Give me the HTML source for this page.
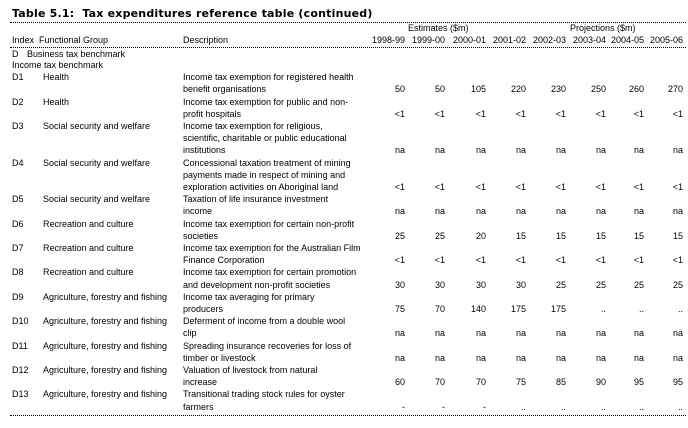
<!DOCTYPE html>
<html><head><meta charset="utf-8"><style>
html,body{margin:0;padding:0;background:#fff;}
body{width:688px;height:418px;position:relative;overflow:hidden;font-family:"Liberation Sans",Arial,sans-serif;font-size:9px;color:#000;}
.t{position:absolute;white-space:nowrap;line-height:12.2px;}
.row{position:absolute;left:0;width:688px;height:40px;}
.idx{position:absolute;left:12px;top:0;line-height:12.2px;white-space:nowrap;}
.grp{position:absolute;left:43px;top:0;line-height:12.2px;white-space:nowrap;}
.desc{position:absolute;left:183px;top:0;line-height:12.2px;white-space:nowrap;}
.vals{position:absolute;left:0;width:688px;height:13px;line-height:12.2px;}
.vals span{position:absolute;top:0;width:40px;text-align:right;white-space:nowrap;}
.c1{left:365px}.c2{left:405px}.c3{left:446px}.c4{left:486px}.c5{left:526px}.c6{left:566px}.c7{left:604px}.c8{left:643px}
.hr{position:absolute;left:10px;width:676px;height:0;border-top:1px dotted #000;}
.title{position:absolute;left:12px;top:7px;font-family:"DejaVu Sans",Verdana,sans-serif;font-weight:bold;font-size:11px;letter-spacing:0.2px;white-space:nowrap;line-height:14px;}
</style></head><body>

<div class="title">Table 5.1:&nbsp; Tax expenditures reference table (continued)</div>
<div class="hr" style="top:22px"></div>

<div class="t" style="left:408px;top:22.2px">Estimates ($m)</div>
<div class="t" style="left:570px;top:22.2px">Projections ($m)</div>

<div class="t" style="left:12px;top:34.2px">Index</div>
<div class="t" style="left:39px;top:34.2px">Functional Group</div>
<div class="t" style="left:183px;top:34.2px">Description</div>
<div class="vals" style="top:34.2px"><span class="c1">1998-99</span><span class="c2">1999-00</span><span class="c3">2000-01</span><span class="c4">2001-02</span><span class="c5">2002-03</span><span class="c6">2003-04</span><span class="c7">2004-05</span><span class="c8">2005-06</span></div>
<div class="hr" style="top:46.5px"></div>

<div class="t" style="left:12px;top:48.2px">D</div>
<div class="t" style="left:27px;top:48.2px">Business tax benchmark</div>
<div class="t" style="left:12px;top:59.2px">Income tax benchmark</div>

<!-- D1 -->
<div class="row" style="top:71.2px">
<div class="idx">D1</div><div class="grp">Health</div>
<div class="desc">Income tax exemption for registered health<br>benefit organisations</div>
<div class="vals" style="top:12.2px"><span class="c1">50</span><span class="c2">50</span><span class="c3">105</span><span class="c4">220</span><span class="c5">230</span><span class="c6">250</span><span class="c7">260</span><span class="c8">270</span></div>
</div>

<!-- D2 -->
<div class="row" style="top:95.6px">
<div class="idx">D2</div><div class="grp">Health</div>
<div class="desc">Income tax exemption for public and non-<br>profit hospitals</div>
<div class="vals" style="top:12.2px"><span class="c1">&lt;1</span><span class="c2">&lt;1</span><span class="c3">&lt;1</span><span class="c4">&lt;1</span><span class="c5">&lt;1</span><span class="c6">&lt;1</span><span class="c7">&lt;1</span><span class="c8">&lt;1</span></div>
</div>

<!-- D3 -->
<div class="row" style="top:120px">
<div class="idx">D3</div><div class="grp">Social security and welfare</div>
<div class="desc">Income tax exemption for religious,<br>scientific, charitable or public educational<br>institutions</div>
<div class="vals" style="top:24.4px"><span class="c1">na</span><span class="c2">na</span><span class="c3">na</span><span class="c4">na</span><span class="c5">na</span><span class="c6">na</span><span class="c7">na</span><span class="c8">na</span></div>
</div>

<!-- D4 -->
<div class="row" style="top:156.6px">
<div class="idx">D4</div><div class="grp">Social security and welfare</div>
<div class="desc">Concessional taxation treatment of mining<br>payments made in respect of mining and<br>exploration activities on Aboriginal land</div>
<div class="vals" style="top:24.4px"><span class="c1">&lt;1</span><span class="c2">&lt;1</span><span class="c3">&lt;1</span><span class="c4">&lt;1</span><span class="c5">&lt;1</span><span class="c6">&lt;1</span><span class="c7">&lt;1</span><span class="c8">&lt;1</span></div>
</div>

<!-- D5 -->
<div class="row" style="top:193.2px">
<div class="idx">D5</div><div class="grp">Social security and welfare</div>
<div class="desc">Taxation of life insurance investment<br>income</div>
<div class="vals" style="top:12.2px"><span class="c1">na</span><span class="c2">na</span><span class="c3">na</span><span class="c4">na</span><span class="c5">na</span><span class="c6">na</span><span class="c7">na</span><span class="c8">na</span></div>
</div>

<!-- D6 -->
<div class="row" style="top:217.6px">
<div class="idx">D6</div><div class="grp">Recreation and culture</div>
<div class="desc">Income tax exemption for certain non-profit<br>societies</div>
<div class="vals" style="top:12.2px"><span class="c1">25</span><span class="c2">25</span><span class="c3">20</span><span class="c4">15</span><span class="c5">15</span><span class="c6">15</span><span class="c7">15</span><span class="c8">15</span></div>
</div>

<!-- D7 -->
<div class="row" style="top:242px">
<div class="idx">D7</div><div class="grp">Recreation and culture</div>
<div class="desc">Income tax exemption for the Australian Film<br>Finance Corporation</div>
<div class="vals" style="top:12.2px"><span class="c1">&lt;1</span><span class="c2">&lt;1</span><span class="c3">&lt;1</span><span class="c4">&lt;1</span><span class="c5">&lt;1</span><span class="c6">&lt;1</span><span class="c7">&lt;1</span><span class="c8">&lt;1</span></div>
</div>

<!-- D8 -->
<div class="row" style="top:266.4px">
<div class="idx">D8</div><div class="grp">Recreation and culture</div>
<div class="desc">Income tax exemption for certain promotion<br>and development non-profit societies</div>
<div class="vals" style="top:12.2px"><span class="c1">30</span><span class="c2">30</span><span class="c3">30</span><span class="c4">30</span><span class="c5">25</span><span class="c6">25</span><span class="c7">25</span><span class="c8">25</span></div>
</div>

<!-- D9 -->
<div class="row" style="top:290.8px">
<div class="idx">D9</div><div class="grp">Agriculture, forestry and fishing</div>
<div class="desc">Income tax averaging for primary<br>producers</div>
<div class="vals" style="top:12.2px"><span class="c1">75</span><span class="c2">70</span><span class="c3">140</span><span class="c4">175</span><span class="c5">175</span><span class="c6">..</span><span class="c7">..</span><span class="c8">..</span></div>
</div>

<!-- D10 -->
<div class="row" style="top:315.2px">
<div class="idx">D10</div><div class="grp">Agriculture, forestry and fishing</div>
<div class="desc">Deferment of income from a double wool<br>clip</div>
<div class="vals" style="top:12.2px"><span class="c1">na</span><span class="c2">na</span><span class="c3">na</span><span class="c4">na</span><span class="c5">na</span><span class="c6">na</span><span class="c7">na</span><span class="c8">na</span></div>
</div>

<!-- D11 -->
<div class="row" style="top:339.6px">
<div class="idx">D11</div><div class="grp">Agriculture, forestry and fishing</div>
<div class="desc">Spreading insurance recoveries for loss of<br>timber or livestock</div>
<div class="vals" style="top:12.2px"><span class="c1">na</span><span class="c2">na</span><span class="c3">na</span><span class="c4">na</span><span class="c5">na</span><span class="c6">na</span><span class="c7">na</span><span class="c8">na</span></div>
</div>

<!-- D12 -->
<div class="row" style="top:364px">
<div class="idx">D12</div><div class="grp">Agriculture, forestry and fishing</div>
<div class="desc">Valuation of livestock from natural<br>increase</div>
<div class="vals" style="top:12.2px"><span class="c1">60</span><span class="c2">70</span><span class="c3">70</span><span class="c4">75</span><span class="c5">85</span><span class="c6">90</span><span class="c7">95</span><span class="c8">95</span></div>
</div>

<!-- D13 -->
<div class="row" style="top:388.4px">
<div class="idx">D13</div><div class="grp">Agriculture, forestry and fishing</div>
<div class="desc">Transitional trading stock rules for oyster<br>farmers</div>
<div class="vals" style="top:12.2px"><span class="c1">-</span><span class="c2">-</span><span class="c3">-</span><span class="c4">..</span><span class="c5">..</span><span class="c6">..</span><span class="c7">..</span><span class="c8">..</span></div>
</div>

<div class="hr" style="top:415px"></div>

</body></html>
